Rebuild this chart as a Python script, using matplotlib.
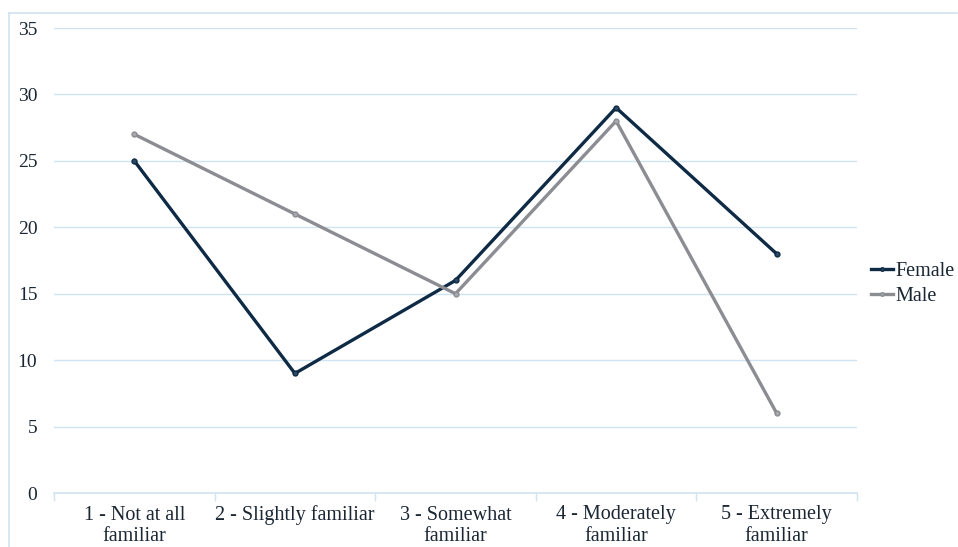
import matplotlib.pyplot as plt
from matplotlib.lines import Line2D

categories = ['1 - Not at all\nfamiliar', '2 - Slightly familiar', '3 - Somewhat\nfamiliar',
              '4 - Moderately\nfamiliar', '5 - Extremely\nfamiliar']
female = [25, 9, 16, 29, 18]
male = [27, 21, 15, 28, 6]
yticks = [0, 5, 10, 15, 20, 25, 30, 35]

grid_col = '#cfe4f2'
text_col = '#1a2633'
female_col = '#0e2a45'
male_col = '#8c8d92'

plt.rcParams['font.family'] = ['Liberation Serif', 'DejaVu Serif']

fig = plt.figure(figsize=(9.58, 5.47), dpi=100)
ax = fig.add_axes([54 / 958, 1 - 493 / 547, (857 - 54) / 958, (493 - 28) / 547])

x = range(len(categories))
ax.plot(x, female, color=female_col, lw=2.4, marker='o', ms=3.5,
        mfc='#2c4a66', mec=female_col, label='Female', zorder=3)
ax.plot(x, male, color=male_col, lw=2.4, marker='o', ms=3.5,
        mfc='#a8a9ad', mec=male_col, label='Male', zorder=3)

ax.set_xlim(-0.5, len(categories) - 0.5)
ax.set_ylim(0, 35)
ax.set_yticks(yticks)
ax.set_yticklabels([str(v) for v in yticks], fontsize=14, color=text_col)
ax.set_xticks(x)
ax.set_xticklabels(categories, fontsize=14.5, color=text_col, linespacing=1.15)
ax.grid(axis='y', color=grid_col, lw=1)
ax.set_axisbelow(True)
for s in ['top', 'right', 'left']:
    ax.spines[s].set_visible(False)
ax.spines['bottom'].set_color(grid_col)
ax.spines['bottom'].set_linewidth(1.2)

# minor ticks between categories on the category axis
ax.set_xticks([i + 0.5 for i in range(-1, len(categories))], minor=True)
ax.tick_params(axis='x', which='minor', length=6, color=grid_col, width=1)
ax.tick_params(axis='x', which='major', length=0, pad=9)
ax.tick_params(axis='y', length=0, pad=12)

handles = [Line2D([], [], color=female_col, lw=2.4, marker='o', ms=2.5, mfc='#2c4a66'),
           Line2D([], [], color=male_col, lw=2.4, marker='o', ms=2.5, mfc='#a8a9ad')]
fig.legend(handles, ['Female', 'Male'], loc='center left', bbox_to_anchor=(871 / 958, 1 - 284 / 547),
           frameon=False, fontsize=14.5, handlelength=1.1, handletextpad=0.1,
           labelspacing=0.25, labelcolor=text_col, borderpad=0, borderaxespad=0)

# outer chart border (top and left edges)
fig.add_artist(Line2D([9 / 958, 9 / 958], [0, 1 - 13 / 547], transform=fig.transFigure,
                      color=grid_col, lw=1.2))
fig.add_artist(Line2D([9 / 958, 957 / 958], [1 - 13 / 547, 1 - 13 / 547], transform=fig.transFigure,
                      color=grid_col, lw=1.2))

fig.savefig('out.png', dpi=100)
